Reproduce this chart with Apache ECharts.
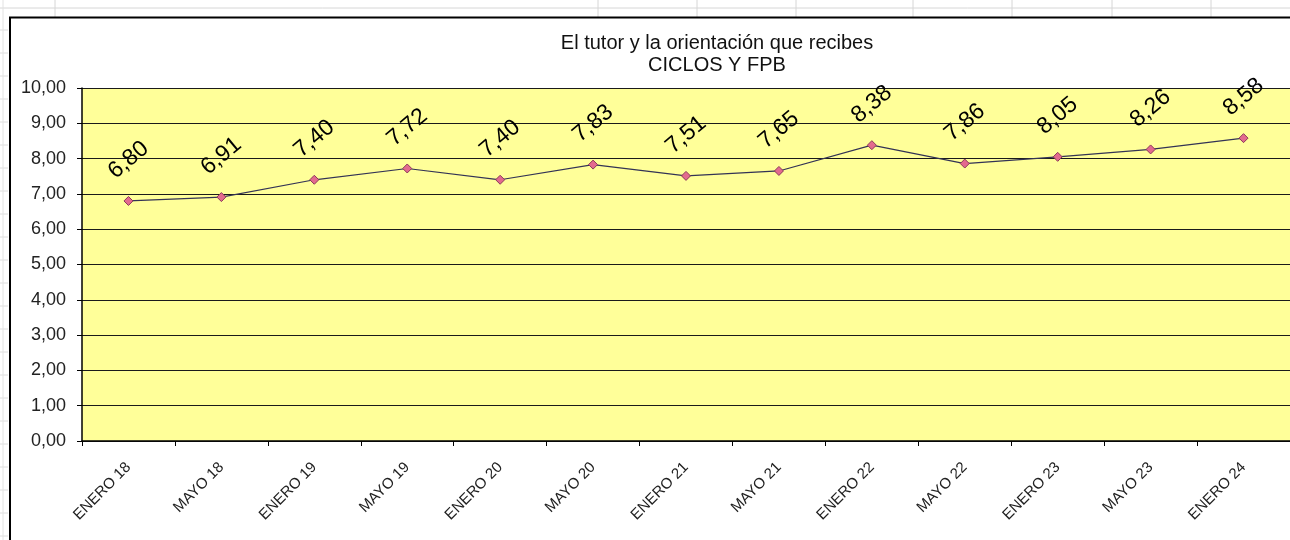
<!DOCTYPE html>
<html>
<head>
<meta charset="utf-8">
<script src="https://cdn.jsdelivr.net/npm/echarts@6/dist/echarts.min.js"></script>
<style>
html,body{margin:0;padding:0;background:#fff;}
#chart{width:1290px;height:540px;}
</style>
</head>
<body>
<div id="chart"></div>
<script>
const categories = ['ENERO 18','MAYO 18','ENERO 19','MAYO 19','ENERO 20','MAYO 20','ENERO 21','MAYO 21','ENERO 22','MAYO 22','ENERO 23','MAYO 23','ENERO 24'];
const values = [6.80, 6.91, 7.40, 7.72, 7.40, 7.83, 7.51, 7.65, 8.38, 7.86, 8.05, 8.26, 8.58];
const titleLines = ['El tutor y la orientación que recibes', 'CICLOS Y FPB'];
const yMin = 0, yMax = 10, yStep = 1;

const fmt = v => v.toFixed(2).replace('.', ',');
const chart = echarts.init(document.getElementById('chart'));
const FONT = 'Liberation Sans, Arial, sans-serif';

// spreadsheet background lines (decorative)
const bg = [];
const sheetCols = [55, 598, 697, 796, 913, 1012, 1112, 1211];
bg.push({type:'line', shape:{x1:0,y1:8,x2:1290,y2:8}, style:{stroke:'#d6d6d6',lineWidth:1}, z:-10});
sheetCols.forEach(x => bg.push({type:'line', shape:{x1:x,y1:0,x2:x,y2:17}, style:{stroke:'#d6d6d6',lineWidth:1}, z:-10}));
for (let y = 30; y < 540; y += 23) {
  bg.push({type:'line', shape:{x1:0,y1:y,x2:8,y2:y}, style:{stroke:'#dcdcdc',lineWidth:1}, z:-10});
}
bg.push({type:'line', shape:{x1:3,y1:0,x2:3,y2:540}, style:{stroke:'#e2e2e2',lineWidth:1}, z:-10});
// chart border
bg.push({type:'polyline', shape:{points:[[10,540],[10,17.5],[1290,17.5]]}, style:{stroke:'#000',lineWidth:2,fill:null}, z:-5});

chart.setOption({
  animation: false,
  backgroundColor: '#fff',
  textStyle: {fontFamily: FONT},
  title: {
    text: titleLines.join('\n'),
    left: 712, top: 27, textAlign: 'center',
    textStyle: {fontSize: 20, fontWeight: 'normal', color: '#111', lineHeight: 22, fontFamily: FONT}
  },
  graphic: bg,
  grid: {left: 82, top: 88, width: 1213, height: 353, show: true, backgroundColor: '#FFFF99', borderWidth: 0},
  xAxis: {
    type: 'category', data: categories, boundaryGap: true,
    axisLine: {lineStyle: {color: '#000', width: 1.5}},
    axisTick: {show: true, length: 5, lineStyle: {color: '#000'}},
    axisLabel: {rotate: 45, fontSize: 15, color: '#222', margin: 24, interval: 0, fontFamily: FONT}
  },
  yAxis: {
    type: 'value', min: yMin, max: yMax, interval: yStep,
    axisLine: {show: true, lineStyle: {color: '#000', width: 1.5}},
    axisTick: {show: true, length: 5, lineStyle: {color: '#000'}},
    axisLabel: {fontSize: 18, color: '#222', margin: 16, formatter: v => fmt(v), fontFamily: FONT},
    splitLine: {show: true, lineStyle: {color: '#1a1a1a', width: 1}}
  },
  series: [{
    type: 'line', data: values,
    lineStyle: {color: '#333355', width: 1.2},
    symbol: 'diamond', symbolSize: 9,
    itemStyle: {color: '#E36A8E', borderColor: '#8B3A5A', borderWidth: 1},
    label: {
      show: true, position: 'top', distance: 36, rotate: 40,
      align: 'center', verticalAlign: 'middle',
      fontSize: 23, color: '#000', formatter: p => fmt(p.value),
      fontFamily: FONT
    }
  }]
});
</script>
</body>
</html>
